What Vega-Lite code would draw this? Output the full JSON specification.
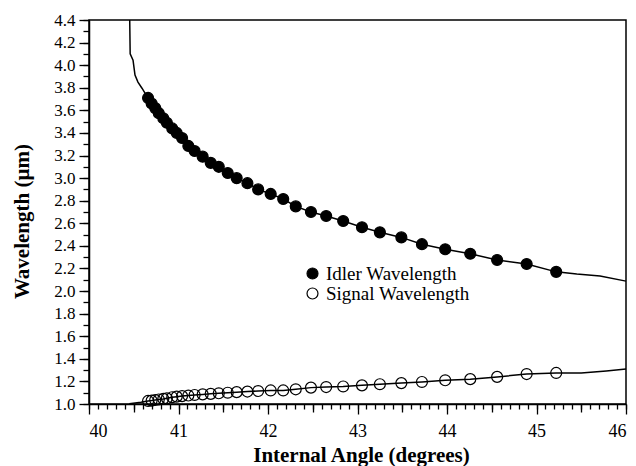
{
  "$schema": "https://vega.github.io/schema/vega-lite/v6.json",
  "width": 537,
  "height": 384,
  "autosize": {"type": "none"},
  "padding": {"left": 89, "top": 20, "right": 10, "bottom": 62},
  "background": "white",
  "config": {
    "view": {"stroke": "black", "strokeWidth": 1.5},
    "font": "Liberation Serif",
    "text": {"font": "Liberation Serif"},
    "legend": {"labelFont": "Liberation Serif"},
    "axis": {
      "domainColor": "black",
      "tickColor": "black",
      "labelColor": "black",
      "titleColor": "black",
      "grid": false,
      "domainWidth": 1.5,
      "tickWidth": 1.3,
      "labelFont": "Liberation Serif",
      "titleFont": "Liberation Serif"
    }
  },
  "data": {
    "values": [
      {"a": 40.455, "w": 4.4, "s": "Idler Wavelength", "k": "c"},
      {"a": 40.46, "w": 4.1, "s": "Idler Wavelength", "k": "c"},
      {"a": 40.492, "w": 4.044, "s": "Idler Wavelength", "k": "c"},
      {"a": 40.514, "w": 3.912, "s": "Idler Wavelength", "k": "c"},
      {"a": 40.547, "w": 3.85, "s": "Idler Wavelength", "k": "c"},
      {"a": 40.592, "w": 3.796, "s": "Idler Wavelength", "k": "c"},
      {"a": 40.626, "w": 3.752, "s": "Idler Wavelength", "k": "c"},
      {"a": 40.66, "w": 3.71, "s": "Idler Wavelength", "k": "m"},
      {"a": 40.70, "w": 3.66, "s": "Idler Wavelength", "k": "m"},
      {"a": 40.74, "w": 3.62, "s": "Idler Wavelength", "k": "m"},
      {"a": 40.78, "w": 3.575, "s": "Idler Wavelength", "k": "m"},
      {"a": 40.83, "w": 3.53, "s": "Idler Wavelength", "k": "m"},
      {"a": 40.87, "w": 3.49, "s": "Idler Wavelength", "k": "m"},
      {"a": 40.93, "w": 3.44, "s": "Idler Wavelength", "k": "m"},
      {"a": 40.98, "w": 3.40, "s": "Idler Wavelength", "k": "m"},
      {"a": 41.04, "w": 3.355, "s": "Idler Wavelength", "k": "m"},
      {"a": 41.11, "w": 3.285, "s": "Idler Wavelength", "k": "m"},
      {"a": 41.18, "w": 3.24, "s": "Idler Wavelength", "k": "m"},
      {"a": 41.27, "w": 3.19, "s": "Idler Wavelength", "k": "m"},
      {"a": 41.36, "w": 3.135, "s": "Idler Wavelength", "k": "m"},
      {"a": 41.45, "w": 3.10, "s": "Idler Wavelength", "k": "m"},
      {"a": 41.55, "w": 3.045, "s": "Idler Wavelength", "k": "m"},
      {"a": 41.65, "w": 3.00, "s": "Idler Wavelength", "k": "m"},
      {"a": 41.77, "w": 2.955, "s": "Idler Wavelength", "k": "m"},
      {"a": 41.89, "w": 2.90, "s": "Idler Wavelength", "k": "m"},
      {"a": 42.03, "w": 2.86, "s": "Idler Wavelength", "k": "m"},
      {"a": 42.17, "w": 2.815, "s": "Idler Wavelength", "k": "m"},
      {"a": 42.31, "w": 2.75, "s": "Idler Wavelength", "k": "m"},
      {"a": 42.48, "w": 2.70, "s": "Idler Wavelength", "k": "m"},
      {"a": 42.65, "w": 2.665, "s": "Idler Wavelength", "k": "m"},
      {"a": 42.84, "w": 2.62, "s": "Idler Wavelength", "k": "m"},
      {"a": 43.05, "w": 2.565, "s": "Idler Wavelength", "k": "m"},
      {"a": 43.25, "w": 2.52, "s": "Idler Wavelength", "k": "m"},
      {"a": 43.49, "w": 2.475, "s": "Idler Wavelength", "k": "m"},
      {"a": 43.72, "w": 2.415, "s": "Idler Wavelength", "k": "m"},
      {"a": 43.98, "w": 2.37, "s": "Idler Wavelength", "k": "m"},
      {"a": 44.26, "w": 2.33, "s": "Idler Wavelength", "k": "m"},
      {"a": 44.56, "w": 2.275, "s": "Idler Wavelength", "k": "m"},
      {"a": 44.89, "w": 2.24, "s": "Idler Wavelength", "k": "m"},
      {"a": 45.22, "w": 2.17, "s": "Idler Wavelength", "k": "m"},
      {"a": 45.45, "w": 2.15, "s": "Idler Wavelength", "k": "c"},
      {"a": 45.71, "w": 2.133, "s": "Idler Wavelength", "k": "c"},
      {"a": 46.0, "w": 2.088, "s": "Idler Wavelength", "k": "c"},
      {"a": 40.45, "w": 1.003, "s": "Signal Wavelength", "k": "c"},
      {"a": 40.58, "w": 1.015, "s": "Signal Wavelength", "k": "c"},
      {"a": 40.66, "w": 1.027, "s": "Signal Wavelength", "k": "m"},
      {"a": 40.70, "w": 1.03, "s": "Signal Wavelength", "k": "m"},
      {"a": 40.74, "w": 1.035, "s": "Signal Wavelength", "k": "m"},
      {"a": 40.78, "w": 1.04, "s": "Signal Wavelength", "k": "m"},
      {"a": 40.83, "w": 1.045, "s": "Signal Wavelength", "k": "m"},
      {"a": 40.87, "w": 1.05, "s": "Signal Wavelength", "k": "m"},
      {"a": 40.93, "w": 1.06, "s": "Signal Wavelength", "k": "m"},
      {"a": 40.98, "w": 1.065, "s": "Signal Wavelength", "k": "m"},
      {"a": 41.04, "w": 1.07, "s": "Signal Wavelength", "k": "m"},
      {"a": 41.11, "w": 1.075, "s": "Signal Wavelength", "k": "m"},
      {"a": 41.18, "w": 1.08, "s": "Signal Wavelength", "k": "m"},
      {"a": 41.27, "w": 1.085, "s": "Signal Wavelength", "k": "m"},
      {"a": 41.36, "w": 1.09, "s": "Signal Wavelength", "k": "m"},
      {"a": 41.45, "w": 1.095, "s": "Signal Wavelength", "k": "m"},
      {"a": 41.55, "w": 1.10, "s": "Signal Wavelength", "k": "m"},
      {"a": 41.65, "w": 1.105, "s": "Signal Wavelength", "k": "m"},
      {"a": 41.77, "w": 1.11, "s": "Signal Wavelength", "k": "m"},
      {"a": 41.89, "w": 1.115, "s": "Signal Wavelength", "k": "m"},
      {"a": 42.03, "w": 1.12, "s": "Signal Wavelength", "k": "m"},
      {"a": 42.17, "w": 1.12, "s": "Signal Wavelength", "k": "m"},
      {"a": 42.31, "w": 1.13, "s": "Signal Wavelength", "k": "m"},
      {"a": 42.48, "w": 1.145, "s": "Signal Wavelength", "k": "m"},
      {"a": 42.65, "w": 1.15, "s": "Signal Wavelength", "k": "m"},
      {"a": 42.84, "w": 1.155, "s": "Signal Wavelength", "k": "m"},
      {"a": 43.05, "w": 1.165, "s": "Signal Wavelength", "k": "m"},
      {"a": 43.25, "w": 1.175, "s": "Signal Wavelength", "k": "m"},
      {"a": 43.49, "w": 1.185, "s": "Signal Wavelength", "k": "m"},
      {"a": 43.72, "w": 1.195, "s": "Signal Wavelength", "k": "m"},
      {"a": 43.98, "w": 1.21, "s": "Signal Wavelength", "k": "m"},
      {"a": 44.26, "w": 1.22, "s": "Signal Wavelength", "k": "m"},
      {"a": 44.56, "w": 1.24, "s": "Signal Wavelength", "k": "m"},
      {"a": 44.89, "w": 1.265, "s": "Signal Wavelength", "k": "m"},
      {"a": 45.22, "w": 1.275, "s": "Signal Wavelength", "k": "m"},
      {"a": 45.5, "w": 1.274, "s": "Signal Wavelength", "k": "c"},
      {"a": 45.78, "w": 1.292, "s": "Signal Wavelength", "k": "c"},
      {"a": 46.0, "w": 1.31, "s": "Signal Wavelength", "k": "c"}
    ]
  },
  "resolve": {"axis": {"x": "independent", "y": "independent"}},
  "layer": [
    {
      "mark": {"type": "line", "color": "black", "strokeWidth": 1.5},
      "encoding": {
        "x": {
          "field": "a", "type": "quantitative",
          "scale": {"domain": [40, 46], "nice": false, "zero": false},
          "axis": {
            "orient": "bottom",
            "values": [40, 41, 42, 43, 44, 45, 46],
            "format": "d",
            "tickSize": 10,
            "labelPadding": 8,
            "labelFont": "Liberation Serif",
            "labelFontSize": 18,
            "title": "Internal Angle (degrees)",
            "titleFont": "Liberation Serif",
            "titleFontSize": 21,
            "titleFontWeight": "bold",
            "titleBaseline": "alphabetic",
            "titleX": 272,
            "titleY": 57
          }
        },
        "y": {
          "field": "w", "type": "quantitative",
          "scale": {"domain": [1.0, 4.4], "nice": false, "zero": false},
          "axis": {
            "orient": "left",
            "values": [1.0, 1.2, 1.4, 1.6, 1.8, 2.0, 2.2, 2.4, 2.6, 2.8, 3.0, 3.2, 3.4, 3.6, 3.8, 4.0, 4.2, 4.4],
            "format": ".1f",
            "tickSize": 10,
            "labelPadding": 4,
            "labelFont": "Liberation Serif",
            "labelFontSize": 17,
            "title": "Wavelength (µm)",
            "titleFont": "Liberation Serif",
            "titleFontSize": 21,
            "titleFontWeight": "bold",
            "titleBaseline": "alphabetic",
            "titleAngle": 270,
            "titleX": -61,
            "titleY": 201
          }
        },
        "detail": {"field": "s"}
      }
    },
    {
      "transform": [{"filter": "datum.k === 'm'"}],
      "mark": {"type": "point", "filled": true, "stroke": "black", "strokeWidth": 1.2, "size": 120, "opacity": 1},
      "encoding": {
        "x": {
          "field": "a", "type": "quantitative",
          "axis": {"orient": "bottom", "tickCount": 60, "labels": false, "domain": false, "tickSize": 5, "title": null}
        },
        "y": {
          "field": "w", "type": "quantitative",
          "axis": {"orient": "left", "tickCount": 34, "labels": false, "domain": false, "tickSize": 6, "title": null}
        },
        "fill": {
          "field": "s", "type": "nominal",
          "scale": {"domain": ["Idler Wavelength", "Signal Wavelength"], "range": ["black", "transparent"]},
          "legend": {
            "orient": "none",
            "legendX": 214,
            "legendY": 244,
            "title": null,
            "padding": 0,
            "labelFont": "Liberation Serif",
            "labelFontSize": 19,
            "labelColor": "black",
            "labelOffset": 4,
            "rowPadding": -2,
            "symbolType": "circle",
            "symbolSize": 120,
            "symbolStrokeColor": "black",
            "symbolStrokeWidth": 1.2
          }
        }
      }
    },
    {
      "transform": [{"filter": "datum.k === 'm'"}],
      "mark": {"type": "point", "opacity": 0},
      "encoding": {
        "x": {
          "field": "a", "type": "quantitative",
          "axis": {"orient": "bottom", "values": [40.5, 41.5, 42.5, 43.5, 44.5, 45.5], "labels": false, "domain": false, "tickSize": 8, "title": null}
        },
        "y": {"field": "w", "type": "quantitative", "axis": null}
      }
    }
  ]
}
